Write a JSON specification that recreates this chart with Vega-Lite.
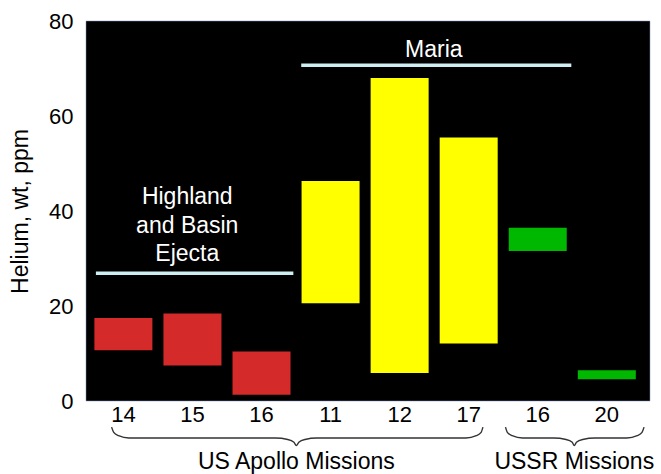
{
  "$schema": "https://vega.github.io/schema/vega-lite/v6.json",
  "width": 564,
  "height": 380,
  "autosize": {"type": "none"},
  "padding": {"left": 86, "top": 21, "right": 11, "bottom": 73},
  "background": "white",
  "config": {
    "view": {"fill": "black", "stroke": "#8090c0", "strokeWidth": 0.5},
    "font": "Liberation Sans"
  },
  "datasets": {
    "bars": [
      {"pos": 1, "label": "14", "group": "Highland", "lo": 10.7, "hi": 17.5},
      {"pos": 2, "label": "15", "group": "Highland", "lo": 7.5, "hi": 18.4},
      {"pos": 3, "label": "16", "group": "Highland", "lo": 1.3, "hi": 10.4},
      {"pos": 4, "label": "11", "group": "Maria", "lo": 20.6, "hi": 46.3},
      {"pos": 5, "label": "12", "group": "Maria", "lo": 5.9, "hi": 68.0},
      {"pos": 6, "label": "17", "group": "Maria", "lo": 12.1, "hi": 55.5},
      {"pos": 7, "label": "16", "group": "USSR", "lo": 31.6, "hi": 36.5},
      {"pos": 8, "label": "20", "group": "USSR", "lo": 4.6, "hi": 6.5}
    ],
    "spans": [
      {"x1": 0.602, "x2": 3.461, "y": 26.9},
      {"x1": 3.575, "x2": 7.486, "y": 70.7}
    ],
    "notes": [
      {"x": 5.495, "y": 73.9, "text": "Maria"},
      {"x": 1.925, "y": 42.9, "text": "Highland"},
      {"x": 1.925, "y": 36.8, "text": "and Basin"},
      {"x": 1.925, "y": 30.9, "text": "Ejecta"}
    ],
    "groups": [
      {"x": 3.504, "y": -12.9, "text": "US Apollo Missions"},
      {"x": 7.529, "y": -12.9, "text": "USSR Missions"}
    ],
    "braces": [
      {"b": "US", "x": 0.829, "y": -5.5}, {"b": "US", "x": 0.86, "y": -6.6}, {"b": "US", "x": 0.93, "y": -7.3},
      {"b": "US", "x": 1.08, "y": -7.8}, {"b": "US", "x": 3.2, "y": -7.8}, {"b": "US", "x": 3.38, "y": -8.1},
      {"b": "US", "x": 3.47, "y": -8.7}, {"b": "US", "x": 3.504, "y": -9.4}, {"b": "US", "x": 3.54, "y": -8.7},
      {"b": "US", "x": 3.63, "y": -8.1}, {"b": "US", "x": 3.8, "y": -7.8}, {"b": "US", "x": 5.96, "y": -7.8},
      {"b": "US", "x": 6.11, "y": -7.3}, {"b": "US", "x": 6.18, "y": -6.6}, {"b": "US", "x": 6.206, "y": -5.5},
      {"b": "USSR", "x": 6.533, "y": -5.5}, {"b": "USSR", "x": 6.56, "y": -6.6}, {"b": "USSR", "x": 6.63, "y": -7.3},
      {"b": "USSR", "x": 6.78, "y": -7.8}, {"b": "USSR", "x": 7.23, "y": -7.8}, {"b": "USSR", "x": 7.41, "y": -8.1},
      {"b": "USSR", "x": 7.5, "y": -8.7}, {"b": "USSR", "x": 7.529, "y": -9.4}, {"b": "USSR", "x": 7.56, "y": -8.7},
      {"b": "USSR", "x": 7.65, "y": -8.1}, {"b": "USSR", "x": 7.83, "y": -7.8}, {"b": "USSR", "x": 8.29, "y": -7.8},
      {"b": "USSR", "x": 8.44, "y": -7.3}, {"b": "USSR", "x": 8.51, "y": -6.6}, {"b": "USSR", "x": 8.539, "y": -5.5}
    ]
  },
  "layer": [
    {
      "data": {"name": "bars"},
      "mark": {"type": "bar", "width": 58, "clip": false},
      "encoding": {
        "x": {
          "field": "pos", "type": "quantitative",
          "scale": {"domain": [0.531, 8.553], "nice": false, "zero": false},
          "axis": null
        },
        "y": {
          "field": "lo", "type": "quantitative",
          "scale": {"domain": [0, 80], "nice": false, "zero": true},
          "axis": {
            "title": "Helium, wt, ppm",
            "values": [0, 20, 40, 60, 80],
            "grid": false, "domain": false, "ticks": false,
            "labelFontSize": 22, "labelColor": "black", "labelPadding": 13,
            "titleFontSize": 23, "titleFontWeight": "normal", "titleColor": "black",
            "titlePadding": 16
          }
        },
        "y2": {"field": "hi"},
        "color": {
          "field": "group", "type": "nominal",
          "scale": {"domain": ["Highland", "Maria", "USSR"], "range": ["#d42a2a", "#ffff00", "#00b800"]},
          "legend": null
        }
      }
    },
    {
      "data": {"name": "bars"},
      "mark": {"type": "text", "fontSize": 22, "color": "black", "baseline": "middle", "clip": false},
      "encoding": {
        "x": {"field": "pos", "type": "quantitative"},
        "y": {"datum": -2.95},
        "text": {"field": "label"}
      }
    },
    {
      "data": {"name": "spans"},
      "mark": {"type": "rule", "color": "#cdeef2", "strokeWidth": 3.5},
      "encoding": {
        "x": {"field": "x1", "type": "quantitative"},
        "x2": {"field": "x2"},
        "y": {"field": "y", "type": "quantitative"}
      }
    },
    {
      "data": {"name": "notes"},
      "mark": {"type": "text", "fontSize": 23, "color": "white", "baseline": "middle"},
      "encoding": {
        "x": {"field": "x", "type": "quantitative"},
        "y": {"field": "y", "type": "quantitative"},
        "text": {"field": "text"}
      }
    },
    {
      "data": {"name": "braces"},
      "mark": {"type": "line", "color": "#333333", "strokeWidth": 1.4, "interpolate": "monotone", "clip": false},
      "encoding": {
        "x": {"field": "x", "type": "quantitative"},
        "y": {"field": "y", "type": "quantitative"},
        "detail": {"field": "b"}
      }
    },
    {
      "data": {"name": "groups"},
      "mark": {"type": "text", "fontSize": 23, "color": "black", "baseline": "middle", "clip": false},
      "encoding": {
        "x": {"field": "x", "type": "quantitative"},
        "y": {"field": "y", "type": "quantitative"},
        "text": {"field": "text"}
      }
    }
  ]
}
